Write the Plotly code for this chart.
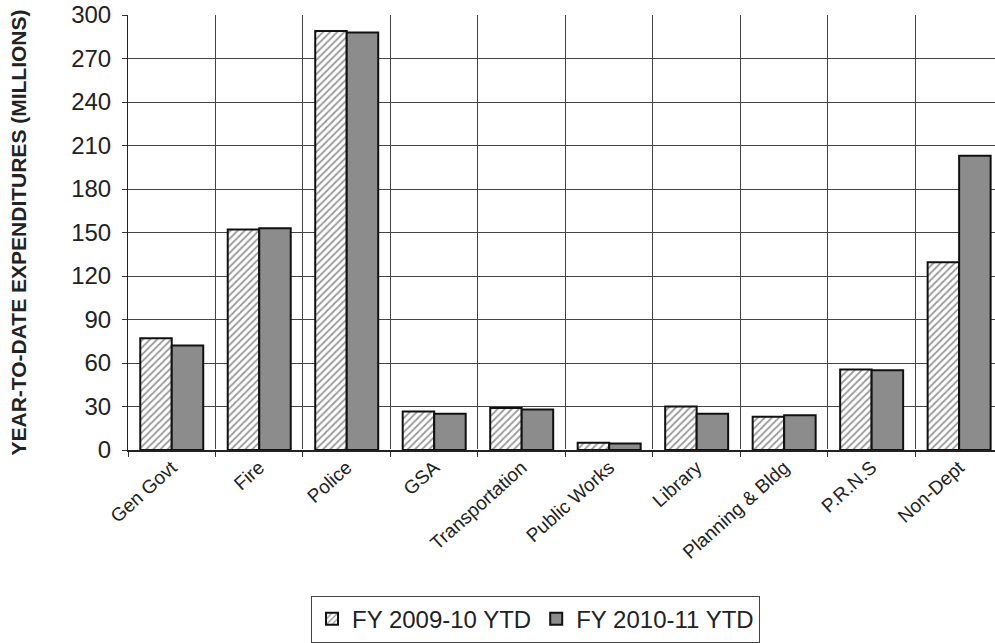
import plotly.graph_objects as go

departments = ["Gen Govt", "Fire", "Police", "GSA", "Transportation", "Public Works",
               "Library", "Planning & Bldg", "P.R.N.S", "Non-Dept"]
fy_2009_10 = [77, 152, 289, 26.5, 29, 5, 30, 23, 55.5, 129.5]
fy_2010_11 = [72, 153, 288, 25, 28, 4.5, 25, 24, 55, 203]
y_ticks = [0, 30, 60, 90, 120, 150, 180, 210, 240, 270, 300]

fig = go.Figure()
fig.add_trace(go.Bar(
    x=departments, y=fy_2009_10, name="FY 2009-10 YTD",
    marker=dict(color="white", line=dict(color="#111", width=2),
                pattern=dict(shape="/", fgcolor="#333", bgcolor="white", size=5, solidity=0.35)),
))
fig.add_trace(go.Bar(
    x=departments, y=fy_2010_11, name="FY 2010-11 YTD",
    marker=dict(color="#8c8c8c", line=dict(color="#111", width=2)),
))

fig.update_layout(
    width=995, height=643,
    margin=dict(l=128, r=0, t=15, b=188),
    paper_bgcolor="white", plot_bgcolor="white",
    barmode="group", bargap=0.28, bargroupgap=0,
    font=dict(family="Liberation Sans, Arial, sans-serif", color="#222"),
    legend=dict(orientation="h", x=0.47, xanchor="center", y=-0.335, yanchor="top",
                xref="paper", yref="paper",
                bordercolor="#444", borderwidth=1, font=dict(size=24),
                itemwidth=30, tracegroupgap=0),
    xaxis=dict(type="category", range=[-0.5, 9.41], tickson="boundaries",
               showgrid=True, gridcolor="#444", gridwidth=1,
               ticks="outside", ticklen=5, tickcolor="#333",
               showline=True, linecolor="#222", linewidth=2,
               tickangle=-42, tickfont=dict(size=19), ticklabelstandoff=-3),
    yaxis=dict(range=[0, 300], tickmode="array", tickvals=y_ticks,
               showgrid=True, gridcolor="#444", gridwidth=1,
               ticks="outside", ticklen=5, tickcolor="#333",
               showline=True, linecolor="#222", linewidth=1,
               tickfont=dict(size=24), ticklabelstandoff=6,
               title=dict(text="<b>YEAR-TO-DATE EXPENDITURES (MILLIONS)</b>",
                          font=dict(size=21), standoff=38)),
)

fig.write_html("out.html")
